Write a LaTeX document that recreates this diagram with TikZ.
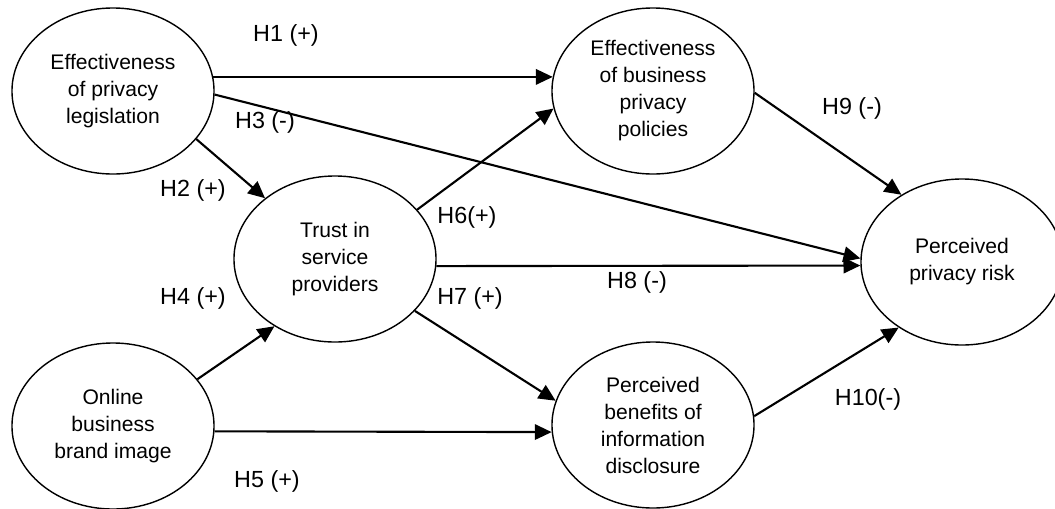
\documentclass[tikz,border=0pt]{standalone}
\usepackage{fontspec}
\setmainfont{Liberation Sans}
\usetikzlibrary{arrows.meta,shapes.geometric}

\begin{document}
\begin{tikzpicture}[
    x=0.025cm, y=-0.025cm,
    construct/.style={draw, ellipse, line width=1pt, minimum width=5.05cm,
                 minimum height=4.15cm, inner sep=0pt, align=center,
                 font=\fontsize{15}{19.2}\selectfont},
    hyp/.style={-{Triangle[length=12pt,width=11pt]}, line width=1.5pt},
    lbl/.style={font=\fontsize{16.6}{19}\selectfont, inner sep=1pt}
]
\useasboundingbox (0,0) rectangle (1055,508);

\node[construct] (leg)     at (113,91)  {Effectiveness\\of privacy\\legislation};
\node[construct] (bpp)     at (653,91)  {Effectiveness\\of business\\privacy\\policies};
\node[construct] (trust)   at (335,259) {Trust in\\service\\providers};
\node[construct] (brand)   at (113,426) {Online\\business\\brand image};
\node[construct] (benefit) at (653,425) {Perceived\\benefits of\\information\\disclosure};
\node[construct] (risk)    at (962,262) {Perceived\\privacy risk};

\draw[hyp] (leg.8)     -- (bpp.172);
\draw[hyp] (leg.358)   -- (risk.178);
\draw[hyp] (leg.330)   -- (trust.139);
\draw[hyp] (brand.29)  -- (trust.228);
\draw[hyp] (brand.357) -- (benefit.184);
\draw[hyp] (trust.31)  -- (bpp.190);
\draw[hyp] (trust.356) -- (risk.182);
\draw[hyp] (trust.327) -- (benefit.166);
\draw[hyp] (bpp.359)   -- (risk.132);
\draw[hyp] (benefit.5) -- (risk.226);

\node[lbl] (h1)  at (286,35)  {H1 (+)};
\node[lbl] (h2)  at (193,190) {H2 (+)};
\node[lbl] (h3)  at (265,122) {H3 (-)};
\node[lbl] (h4)  at (193,298) {H4 (+)};
\node[lbl] (h5)  at (267,481) {H5 (+)};
\node[lbl] (h6)  at (467,217) {H6(+)};
\node[lbl] (h7)  at (470,298) {H7 (+)};
\node[lbl] (h8)  at (637,282) {H8 (-)};
\node[lbl] (h9)  at (852,108) {H9 (-)};
\node[lbl] (h10) at (868,399) {H10(-)};

\end{tikzpicture}
\end{document}
